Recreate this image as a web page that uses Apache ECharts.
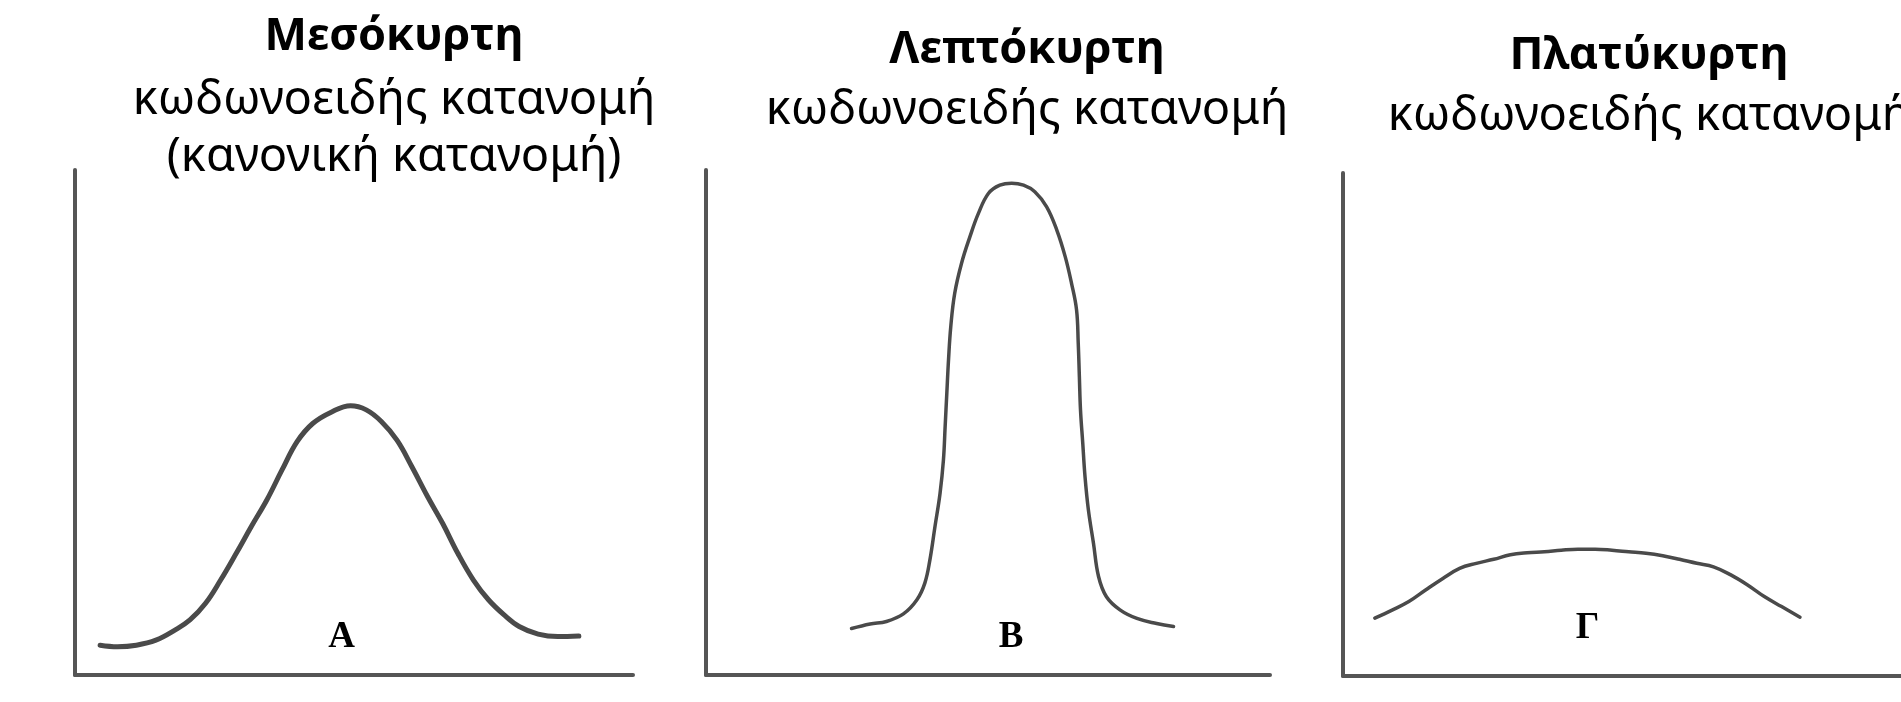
<!DOCTYPE html>
<html>
<head>
<meta charset="utf-8">
<title>Κύρτωση</title>
<script src="https://cdn.jsdelivr.net/npm/echarts@6/dist/echarts.min.js"></script>
<style>
  html, body { margin: 0; padding: 0; background: #fff; }
  #chart { width: 1901px; height: 702px; }
</style>
</head>
<body>
<div id="chart"></div>
<script>
// τίτλοι
var headers = ['Μεσόκυρτη', 'Λεπτόκυρτη', 'Πλατύκυρτη'];
var subheaders = [
  'κωδωνοειδής κατανομή\n(κανονική κατανομή)',
  'κωδωνοειδής κατανομή',
  'κωδωνοειδής κατανομή'
];
var letters = ['A', 'B', 'Γ'];
// θέση γράμματος (x, y) σε μονάδες αξόνων
var letterX = [47.8, 54.1, 43.8];
var letterY = [7.5, 7.5, 9.5];

// μεσόκυρτη
var mesoX = [4.5, 7.6, 11.0, 14.5, 17.9, 20.6, 23.4, 26.1, 28.9, 31.6, 34.4, 37.1, 39.8, 42.6, 46.0, 49.4,
  52.2, 54.9, 57.7, 60.4, 63.2, 65.9, 68.6, 71.4, 74.1, 76.9, 79.6, 83.0, 86.5, 90.3];
var mesoY = [5.9, 5.6, 5.9, 6.9, 8.9, 10.9, 14.2, 18.8, 24.1, 29.4, 34.7, 40.6, 46.2, 49.8, 52.1, 53.3,
  52.5, 50.2, 46.5, 41.2, 35.3, 30.0, 24.1, 18.8, 14.9, 11.9, 9.6, 8.1, 7.6, 7.7];
// λεπτόκυρτη
var leptoX = [25.8, 29.1, 32.0, 35.0, 37.4, 38.8, 39.7, 40.6, 41.5, 42.1, 42.4, 42.7, 43.0, 43.4, 44.1, 45.3,
  46.8, 48.3, 50.1, 52.1, 54.2, 56.3, 58.3, 60.4, 62.2, 63.7, 64.8, 65.7, 66.0, 66.2, 66.4, 66.8, 67.2,
  67.8, 68.7, 69.6, 71.0, 73.4, 76.4, 79.9, 82.9];
var leptoY = [9.2, 10.1, 10.6, 12.1, 14.9, 18.2, 22.8, 29.4, 36.0, 42.6, 49.2, 55.8, 62.4, 69.0, 75.6, 81.5,
  86.8, 91.4, 95.4, 97.0, 97.4, 97.0, 95.7, 92.7, 88.1, 82.8, 77.6, 72.3, 65.7, 59.1, 52.5, 45.9, 39.3,
  32.7, 26.1, 19.5, 15.5, 12.9, 11.2, 10.2, 9.6];
// πλατύκυρτη
var platyX = [5.7, 8.8, 11.8, 14.8, 17.9, 20.9, 23.9, 27.0, 30.0, 33.0, 36.1, 39.1, 42.1, 45.2, 48.2, 51.2,
  54.3, 57.3, 60.3, 63.4, 66.4, 69.5, 72.5, 75.5, 78.6, 81.9];
var platyY = [11.5, 13.1, 14.8, 17.1, 19.4, 21.4, 22.4, 23.2, 24.1, 24.5, 24.7, 25.0, 25.2, 25.2, 25.0, 24.7,
  24.4, 23.9, 23.2, 22.4, 21.7, 20.1, 18.1, 15.8, 13.8, 11.7];

function pairs(xs, ys) {
  return xs.map(function (x, i) { return [x, ys[i]]; });
}

var myChart = echarts.init(document.getElementById('chart'));

var grids = [
  { left: 75, top: 170, width: 558, height: 505 },
  { left: 706, top: 170, width: 564, height: 505 },
  { left: 1343, top: 173, width: 600, height: 503 }
];
var titlePos = [
  { left: 394, top: 8, gap: 6 },
  { left: 1027, top: 21, gap: 3 },
  { left: 1649, top: 27, gap: 3 }
];
var lineWidths = [5, 3.5, 3.5];
var curves = [pairs(mesoX, mesoY), pairs(leptoX, leptoY), pairs(platyX, platyY)];

var axisLine = {
  show: true,
  lineStyle: { color: '#555', width: 4 }
};

var option = {
  backgroundColor: '#fff',
  animation: false,
  title: headers.map(function (h, i) {
    return {
      text: h,
      subtext: subheaders[i],
      left: titlePos[i].left,
      top: titlePos[i].top,
      textAlign: 'center',
      padding: 0,
      itemGap: titlePos[i].gap,
      textStyle: {
        fontFamily: 'Noto Sans',
        fontWeight: 'bold',
        fontSize: 45,
        lineHeight: 58,
        color: '#000'
      },
      subtextStyle: {
        fontFamily: 'Noto Sans',
        fontSize: 47,
        lineHeight: 57,
        color: '#000'
      }
    };
  }),
  grid: grids,
  xAxis: grids.map(function (g, i) {
    return {
      type: 'value', gridIndex: i, min: 0, max: 100,
      axisLine: axisLine,
      axisTick: { show: false },
      axisLabel: { show: false },
      splitLine: { show: false }
    };
  }),
  yAxis: grids.map(function (g, i) {
    return {
      type: 'value', gridIndex: i, min: 0, max: 100,
      axisLine: axisLine,
      axisTick: { show: false },
      axisLabel: { show: false },
      splitLine: { show: false }
    };
  }),
  series: curves.map(function (data, i) {
    return {
      type: 'line',
      name: headers[i],
      xAxisIndex: i,
      yAxisIndex: i,
      data: data,
      smooth: 0.4,
      showSymbol: false,
      lineStyle: { color: '#4a4a4a', width: lineWidths[i], cap: 'round', join: 'round' },
      markPoint: {
        symbol: 'circle',
        symbolSize: 1,
        itemStyle: { color: 'rgba(0,0,0,0)' },
        label: {
          show: true,
          position: 'inside',
          formatter: letters[i],
          fontFamily: '"Liberation Serif", serif',
          fontWeight: 'bold',
          fontSize: 37,
          color: '#000'
        },
        data: [{ coord: [letterX[i], letterY[i]] }]
      }
    };
  })
};

myChart.setOption(option);
</script>
</body>
</html>
